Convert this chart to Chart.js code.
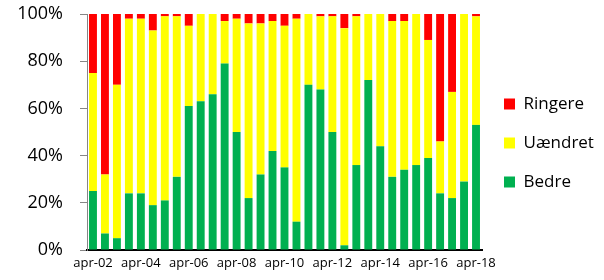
<!DOCTYPE html>
<html>
<head>
<meta charset="utf-8">
<script src="https://cdn.jsdelivr.net/npm/chart.js@4/dist/chart.umd.min.js"></script>
<style>
  html, body { margin: 0; padding: 0; background: #fff; }
  #wrap { width: 604px; height: 280px; position: relative; }
</style>
</head>
<body>
<div id="wrap"><canvas id="c" width="604" height="280"></canvas></div>
<script>
// Categories: half-yearly (april / oktober), 2002-2018
const categories = [
  "apr-02","okt-02","apr-03","okt-03","apr-04","okt-04","apr-05","okt-05",
  "apr-06","okt-06","apr-07","okt-07","apr-08","okt-08","apr-09","okt-09",
  "apr-10","okt-10","apr-11","okt-11","apr-12","okt-12","apr-13","okt-13",
  "apr-14","okt-14","apr-15","okt-15","apr-16","okt-16","apr-17","okt-17","apr-18"
];
// Series values (percent)
const bedre = [25,7,5,24,24,19,21,31,61,63,66,79,50,22,32,42,35,12,70,68,50,2,36,72,44,31,34,36,39,24,22,29,53];
const uaendret = [50,25,65,74,74,74,78,68,34,37,34,18,48,74,64,55,60,86,30,31,49,92,63,28,56,66,63,64,50,22,45,71,46];
const ringere = [25,68,30,2,2,7,1,1,5,0,0,3,2,4,4,3,5,2,0,1,1,6,1,0,0,3,3,0,11,54,33,0,1];
// Tick values for y axis
const yTicks = [0, 20, 40, 60, 80, 100];

Chart.defaults.font.family = "'Open Sans', sans-serif";
Chart.defaults.color = "#000";

const legendFix = {
  id: 'legendFix',
  afterInit(chart) {
    const lg = chart.legend;
    if (!lg) return;
    const f = lg.fit.bind(lg);
    lg.fit = function () { f(); this.width = 122; };
  }
};

new Chart(document.getElementById('c'), {
  type: 'bar',
  data: {
    labels: categories,
    datasets: [
      { label: 'Bedre', data: bedre, backgroundColor: '#00B050' },
      { label: 'Uændret', data: uaendret, backgroundColor: '#FFFF00' },
      { label: 'Ringere', data: ringere, backgroundColor: '#FF0000' }
    ]
  },
  plugins: [legendFix],
  options: {
    responsive: false,
    animation: false,
    devicePixelRatio: 1,
    layout: { padding: { top: 6, left: 0, right: 0, bottom: 0 } },
    datasets: { bar: { barPercentage: 0.66, categoryPercentage: 1.0 } },
    plugins: {
      tooltip: { enabled: false },
      title: { display: false },
      legend: {
        position: 'right',
        align: 'center',
        reverse: true,
        labels: {
          boxWidth: 11,
          boxHeight: 11,
          padding: 22,
          color: '#000',
          font: { size: 17 }
        }
      }
    },
    scales: {
      x: {
        stacked: true,
        grid: { display: false, drawTicks: false },
        border: { display: true, color: '#000', width: 2 },
        ticks: {
          autoSkip: false,
          maxRotation: 0,
          minRotation: 0,
          padding: 5,
          font: { size: 13 },
          color: '#000',
          callback: (v, i) => (i % 4 === 0 ? categories[i] : '')
        },
        afterFit(scale) { scale.height = 30; }
      },
      y: {
        stacked: true,
        min: 0,
        max: 100,
        afterBuildTicks(scale) { scale.ticks = yTicks.map(v => ({ value: v })); },
        grid: {
          display: true,
          drawOnChartArea: false,
          drawTicks: true,
          tickLength: 7,
          color: '#868686'
        },
        border: { display: true, color: '#868686', width: 1 },
        ticks: {
          padding: 17,
          font: { size: 18 },
          color: '#000',
          callback: v => v + '%'
        },
        afterFit(scale) { scale.width = 87; scale.paddingTop = 14; }
      }
    }
  }
});
</script>
</body>
</html>
